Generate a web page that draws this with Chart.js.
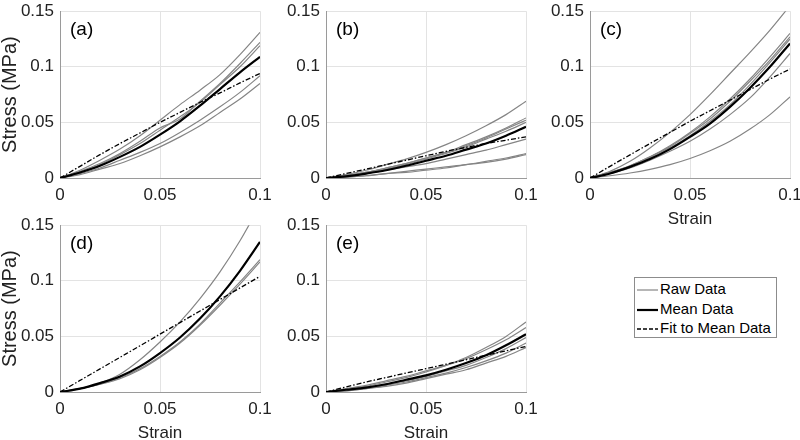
<!DOCTYPE html>
<html>
<head>
<meta charset="utf-8">
<script src="https://cdn.jsdelivr.net/npm/chart.js@4"></script>
<style>
  body { margin: 0; width: 800px; height: 440px; position: relative; overflow: hidden; background: #fff;
         font-family: "Liberation Sans", Arial, sans-serif; }
  canvas { position: absolute; }
  #legend { position: absolute; left: 634px; top: 277px; width: 141px; height: 59px;
            border: 1px solid #8c8c8c; background: #fff; font-size: 15px; color: #000; }
  #legend div { position: absolute; left: 2px; height: 19px; line-height: 19px; white-space: nowrap; }
  #legend svg { vertical-align: middle; margin-right: 2px; }
</style>
</head>
<body>
<div id="legend">
  <div style="top:1px"><svg width="21" height="4"><line x1="0" y1="2" x2="21" y2="2" stroke="#858585" stroke-width="1.2"/></svg>Raw Data</div>
  <div style="top:21px"><svg width="21" height="4"><line x1="0" y1="2" x2="21" y2="2" stroke="#000" stroke-width="2.2"/></svg>Mean Data</div>
  <div style="top:40px"><svg width="21" height="4"><line x1="0" y1="2" x2="21" y2="2" stroke="#000" stroke-width="1.3" stroke-dasharray="4 2"/></svg>Fit to Mean Data</div>
</div>
<script>
// strain samples shared by all panels
const strain = [0, 0.01, 0.02, 0.03, 0.04, 0.05, 0.06, 0.07, 0.08, 0.09, 0.1];
const xTicks = [0, 0.05, 0.1];
const yTicks = [0, 0.05, 0.1, 0.15];

// (a)
const rawA = [
  [0, 0.007, 0.016, 0.026, 0.038, 0.052, 0.066, 0.079, 0.093, 0.111, 0.131],
  [0, 0.006, 0.013, 0.022, 0.033, 0.045, 0.053, 0.069, 0.085, 0.103, 0.122],
  [0, 0.005, 0.012, 0.021, 0.031, 0.043, 0.055, 0.068, 0.084, 0.100, 0.119],
  [0, 0.004, 0.009, 0.016, 0.023, 0.031, 0.041, 0.052, 0.064, 0.077, 0.092],
  [0, 0.003, 0.008, 0.013, 0.020, 0.028, 0.037, 0.047, 0.059, 0.071, 0.085]
];
const meanA = [0, 0.005, 0.011, 0.019, 0.028, 0.039, 0.051, 0.065, 0.080, 0.095, 0.109];
const fitA = [0, 0.0105, 0.021, 0.031, 0.0405, 0.050, 0.059, 0.068, 0.0765, 0.0855, 0.094];

// (b)
const rawB = [
  [0, 0.003, 0.007, 0.012, 0.017, 0.023, 0.030, 0.038, 0.047, 0.057, 0.069],
  [0, 0.002, 0.005, 0.009, 0.013, 0.018, 0.023, 0.030, 0.037, 0.045, 0.054],
  [0, 0.002, 0.005, 0.009, 0.013, 0.018, 0.023, 0.029, 0.036, 0.044, 0.052],
  [0, 0.002, 0.005, 0.008, 0.012, 0.017, 0.022, 0.028, 0.035, 0.042, 0.050],
  [0, 0.002, 0.004, 0.007, 0.010, 0.013, 0.017, 0.021, 0.025, 0.030, 0.035],
  [0, 0.001, 0.002, 0.004, 0.006, 0.008, 0.010, 0.012, 0.015, 0.018, 0.022],
  [0, 0.001, 0.002, 0.004, 0.005, 0.007, 0.009, 0.012, 0.014, 0.017, 0.021]
];
const meanB = [0, 0.0015, 0.004, 0.007, 0.011, 0.0155, 0.020, 0.0255, 0.031, 0.038, 0.046];
const fitB = [0, 0.004, 0.008, 0.012, 0.016, 0.020, 0.024, 0.0275, 0.031, 0.034, 0.037];

// (c)
const rawC = [
  [0, 0.006, 0.015, 0.027, 0.041, 0.057, 0.075, 0.094, 0.113, 0.133, 0.155],
  [0, 0.005, 0.011, 0.019, 0.029, 0.041, 0.055, 0.071, 0.089, 0.109, 0.130],
  [0, 0.005, 0.011, 0.019, 0.028, 0.040, 0.053, 0.069, 0.087, 0.106, 0.127],
  [0, 0.005, 0.010, 0.018, 0.027, 0.038, 0.051, 0.066, 0.084, 0.104, 0.125],
  [0, 0.004, 0.009, 0.016, 0.024, 0.033, 0.044, 0.057, 0.072, 0.091, 0.112],
  [0, 0.002, 0.0045, 0.0078, 0.012, 0.0175, 0.0245, 0.033, 0.044, 0.057, 0.073]
];
const meanC = [0, 0.004, 0.010, 0.017, 0.026, 0.037, 0.049, 0.064, 0.081, 0.100, 0.121];
const fitC = [0, 0.0105, 0.0208, 0.031, 0.041, 0.051, 0.0605, 0.070, 0.0795, 0.089, 0.098];

// (d)
const rawD = [
  [0, 0.003, 0.008, 0.016, 0.029, 0.045, 0.063, 0.084, 0.108, 0.136, 0.168],
  [0, 0.003, 0.007, 0.013, 0.021, 0.032, 0.045, 0.061, 0.080, 0.099, 0.119],
  [0, 0.003, 0.007, 0.012, 0.020, 0.031, 0.044, 0.060, 0.078, 0.097, 0.117]
];
const meanD = [0, 0.003, 0.008, 0.014, 0.023, 0.035, 0.049, 0.066, 0.086, 0.109, 0.135];
const fitD = [0, 0.0104, 0.0208, 0.0312, 0.0416, 0.052, 0.0624, 0.0728, 0.0832, 0.0936, 0.104];

// (e)
const rawE = [
  [0, 0.002, 0.005, 0.009, 0.013, 0.018, 0.024, 0.031, 0.040, 0.050, 0.063],
  [0, 0.003, 0.006, 0.010, 0.014, 0.019, 0.024, 0.030, 0.038, 0.047, 0.058],
  [0, 0.002, 0.004, 0.007, 0.010, 0.014, 0.019, 0.024, 0.031, 0.039, 0.049],
  [0, 0.001, 0.003, 0.006, 0.009, 0.013, 0.017, 0.022, 0.028, 0.035, 0.044],
  [0, 0.001, 0.003, 0.005, 0.008, 0.012, 0.016, 0.020, 0.026, 0.032, 0.040]
];
const meanE = [0, 0.002, 0.004, 0.007, 0.011, 0.015, 0.020, 0.026, 0.033, 0.042, 0.052];
const fitE = [0, 0.0045, 0.009, 0.013, 0.017, 0.021, 0.025, 0.029, 0.033, 0.037, 0.041];

const panels = [
  { label: '(a)', raw: rawA, mean: meanA, fit: fitA, left: 60, top: 7, yTitle: true, xTitle: false },
  { label: '(b)', raw: rawB, mean: meanB, fit: fitB, left: 326, top: 7, yTitle: false, xTitle: false },
  { label: '(c)', raw: rawC, mean: meanC, fit: fitC, left: 590, top: 7, yTitle: false, xTitle: true },
  { label: '(d)', raw: rawD, mean: meanD, fit: fitD, left: 60, top: 221, yTitle: true, xTitle: true },
  { label: '(e)', raw: rawE, mean: meanE, fit: fitE, left: 326, top: 221, yTitle: false, xTitle: true }
];

const FONT = '"Liberation Sans", Arial, sans-serif';

const panelLabel = {
  id: 'panelLabel',
  afterDraw(chart, args, opts) {
    const { ctx, chartArea } = chart;
    ctx.save();
    ctx.font = '19px ' + FONT;
    ctx.fillStyle = '#000';
    ctx.textBaseline = 'middle';
    ctx.fillText(opts.text, chartArea.left + 10, chartArea.top + 19);
    ctx.restore();
  }
};

const fmt = v => String(+v.toFixed(2));

function makePanel(p) {
  const cv = document.createElement('canvas');
  cv.width = 290;
  cv.height = 235;
  cv.style.left = (p.left - 60) + 'px';
  cv.style.top = (p.top - 12) + 'px';
  document.body.appendChild(cv);

  const toPts = ys => ys.map((y, i) => ({ x: strain[i], y }));
  const datasets = p.raw.map(r => ({ data: toPts(r), borderColor: '#858585', borderWidth: 1.2, order: 2 }));
  datasets.push({ data: toPts(p.mean), borderColor: '#000', borderWidth: 2.2, order: 1 });
  datasets.push({ data: toPts(p.fit), borderColor: '#000', borderWidth: 1.3, borderDash: [5, 2, 1.5, 2], order: 0 });
  datasets.forEach(d => { d.clip = 0; });

  new Chart(cv, {
    type: 'line',
    data: { datasets },
    options: {
      responsive: false,
      animation: false,
      layout: { padding: { top: 12, right: 30, left: 0, bottom: 0 } },
      elements: { point: { radius: 0 }, line: { cubicInterpolationMode: 'monotone', fill: false } },
      plugins: { legend: { display: false }, tooltip: { enabled: false }, panelLabel: { text: p.label } },
      scales: {
        x: {
          type: 'linear', min: 0, max: 0.1,
          afterBuildTicks: s => { s.ticks = xTicks.map(v => ({ value: v })); },
          afterFit: s => { s.height = 52; },
          ticks: { callback: fmt, font: { family: FONT, size: 17 }, color: '#222', padding: 7, maxRotation: 0 },
          grid: { color: '#e3e3e3', drawTicks: false },
          border: { color: '#9a9a9a' },
          title: { display: p.xTitle, text: 'Strain', font: { family: FONT, size: 17 }, color: '#222', padding: 0 }
        },
        y: {
          min: 0, max: 0.15,
          afterBuildTicks: s => { s.ticks = yTicks.map(v => ({ value: v })); },
          afterFit: s => { s.width = 60; },
          ticks: { callback: fmt, font: { family: FONT, size: 17 }, color: '#222', padding: 6 },
          grid: { color: '#e3e3e3', drawTicks: false },
          border: { color: '#9a9a9a' },
          title: { display: p.yTitle, text: 'Stress (MPa)', font: { family: FONT, size: 20, lineHeight: 1 }, color: '#222', padding: 0 }
        }
      }
    },
    plugins: [panelLabel]
  });
}

panels.forEach(makePanel);
</script>
</body>
</html>
